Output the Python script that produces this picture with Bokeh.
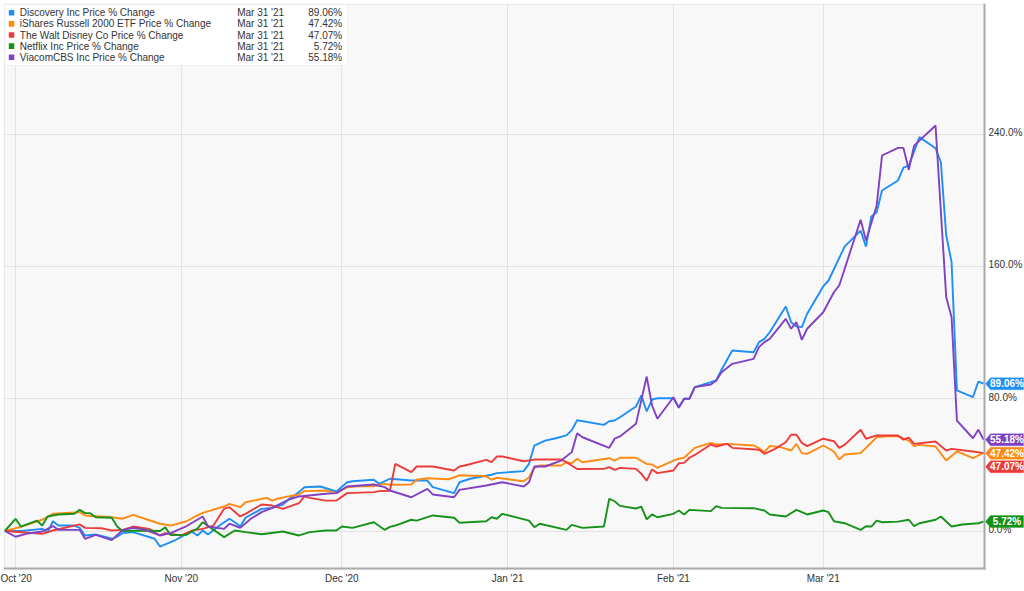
import pandas as pd
from bokeh.plotting import figure
from bokeh.models import (Range1d, FixedTicker, DatetimeTickFormatter, Label,
                          PolyAnnotation, BoxAnnotation, ColumnDataSource, Grid)
from bokeh.embed import file_html
from bokeh.resources import INLINE

# ---------------- data ----------------
START = pd.Timestamp("2020-10-01")   # day offsets below are calendar days from this date

names = ["Discovery Inc Price % Change", "iShares Russell 2000 ETF Price % Change",
         "The Walt Disney Co Price % Change", "Netflix Inc Price % Change",
         "ViacomCBS Inc Price % Change"]
colors = ["#1e8ff5", "#ff8a12", "#ec3b3b", "#16921a", "#8041c2"]
last_date = "Mar 31 '21"
last_values = [89.06, 47.42, 47.07, 5.72, 55.18]
y_ticks = [0, 80, 160, 240]
month_ticks = ["2020-10-01", "2020-11-01", "2020-12-01", "2021-01-01", "2021-02-01", "2021-03-01"]

dis_day = [-2, 1, 5, 6, 7, 8, 11, 12, 13, 15, 18, 19, 20, 22, 26, 27, 30, 32, 33, 34,
           35, 36, 38, 40, 41, 42, 43, 46, 48, 50, 51, 53, 54, 57, 60, 62, 63, 67, 68, 70,
           74, 77, 78, 82, 83, 85, 89, 90, 95, 96, 97, 99, 101, 103, 104, 105, 110, 111, 112, 113,
           116, 117, 118, 119, 120, 123, 124, 125, 126, 127, 130, 131, 132, 134, 138, 139, 140, 141, 144, 145,
           146, 147, 148, 151, 152, 155, 158, 159, 160, 161, 162, 165, 166, 167, 169, 172, 173, 174, 175, 176,
           179, 180, 181]
dis_val = [0, 0, 1.3, -0.7, 5.9, 3.3, 3.3, 1.9, -2.7, -2.1, -4.7, -3.5, -1.3, -0.7, -4.7, -9.4, -5.3, -1.7, -0.5, -2.7,
           0.3, -2.1, 3, 7.4, 5.3, 2.7, 8, 13.4, 14, 16, 18.9, 23.5, 26.5, 26.9, 23.9, 29.5, 30.1, 31, 28.5, 31.6,
           30.5, 30.5, 26.5, 22.9, 29.5, 31.6, 34, 35, 36.2, 40.6, 51.7, 54.7, 56.1, 57.8, 61, 67, 64.2, 66.4, 66.8, 68.8,
           75.3, 82, 72.3, 79.5, 80.3, 80.3, 74.9, 80, 80, 87, 90, 91, 97.5, 109.2, 108.1, 114.2, 116.2, 120.2, 135.8, 126.3,
           123.7, 123.3, 131.4, 147.9, 151.5, 172, 181.7, 172, 190.2, 192.8, 205.9, 212, 219.7, 221, 238.2, 231.5, 223, 178.7, 162.6, 85,
           80.9, 90.4, 89.06]

iwm_day = [-2, 1, 5, 7, 12, 13, 18, 20, 22, 27, 29, 32, 34, 35, 39, 40, 42, 43, 47, 48, 49,
           51, 53, 54, 58, 60, 62, 64, 67, 69, 70, 74, 75, 77, 81, 83, 88, 89, 90, 95, 96,
           97, 98, 102, 103, 104, 105, 106, 111, 112, 113, 116, 118, 119, 120, 123, 124, 125, 127, 130, 131,
           133, 138, 139, 140, 141, 143, 145, 146, 147, 148, 151, 153, 154, 155, 158, 161, 163, 165, 167, 168,
           169, 172, 174, 176, 179, 181]
iwm_val = [0, 2.5, 6.8, 10.4, 11.4, 9.4, 8.3, 7.4, 9.8, 4.4, 3.3, 5.9, 9.4, 11, 14.8, 16.4, 14.4, 17.4, 20, 18.4, 19.5,
           20.9, 22.1, 24.1, 24.5, 22.9, 26.5, 27.1, 27.1, 28.5, 28, 28.1, 31, 31.9, 31.3, 33.7, 33.1, 31, 32.2, 30.1, 32.5,
           38.2, 39.6, 39.6, 41.6, 41, 43.7, 41.6, 44, 42.6, 44.3, 44.3, 40.6, 40.2, 38.2, 42.6, 43.7, 44.3, 50.3, 53.3, 52.3,
           52.7, 51.7, 50.1, 47.7, 51.4, 50.7, 48.7, 52.7, 47.1, 46.7, 51.7, 48.1, 43.2, 46.3, 47.1, 56.7, 57.3, 57.3, 54.7, 51.3,
           52.1, 51.1, 42.6, 48.1, 44, 47.42]

dis_co_day = [-2, 5, 7, 12, 13, 16, 18, 20, 22, 25, 27, 28, 31, 33, 35, 37, 39, 40, 42, 43,
              46, 48, 50, 53, 54, 55, 58, 60, 62, 67, 68, 70, 71, 74, 75, 78, 82, 83, 84, 88,
              89, 90, 91, 95, 97, 102, 103, 105, 110, 111, 112, 113, 116, 117, 118, 119, 120, 123, 124, 125,
              126, 127, 130, 131, 133, 134, 139, 140, 142, 144, 145, 146, 147, 148, 151, 153, 154, 155, 158, 159,
              161, 165, 166, 167, 168, 172, 174, 175, 179, 181]
dis_co_val = [0, -1.7, 0.3, 4, 1.9, 1.7, 0.3, 0.7, 2.7, 1.3, -2.7, -1.3, -2.7, 0.3, 1.3, 3.3, 13.4, 14.4, 8.8, 10.4,
              16, 15.4, 13.4, 16.8, 20.9, 20, 18.4, 18.4, 22.9, 23.5, 24.1, 24.3, 40.6, 35.6, 39, 39, 36.6, 39, 39.6, 43,
              41.6, 45.1, 45.1, 42.2, 43.2, 43.2, 41.6, 37.5, 37.6, 38.6, 37, 38.2, 37.6, 34.6, 30.5, 37.2, 35, 36.6, 41, 41.2,
              44.3, 46, 52.3, 51.1, 52.7, 50.3, 49.1, 46.7, 49.7, 53.7, 58.2, 58.2, 53.3, 51.3, 55.8, 54.3, 50.3, 52.1, 61.2, 55.8,
              57.8, 57.8, 55.2, 56.4, 52.7, 54.1, 48.7, 49.7, 48.1, 47.07]

nflx_day = [-2, 0, 1, 4, 5, 6, 8, 11, 12, 13, 14, 15, 18, 19, 20, 24, 27, 28, 29, 32,
            34, 35, 39, 41, 43, 46, 50, 53, 55, 58, 60, 61, 63, 67, 69, 70, 71, 74, 75, 78,
            82, 83, 88, 89, 90, 91, 96, 97, 98, 103, 104, 106, 110, 111, 112, 113, 116, 117, 118, 119,
            120, 123, 124, 125, 126, 130, 131, 132, 138, 140, 141, 144, 146, 148, 151, 152, 153, 155, 158, 159,
            160, 161, 162, 165, 167, 168, 169, 172, 173, 175, 177, 180, 181]
nflx_val = [0, 7.4, 2.7, 6.3, 3.3, 8.8, 10, 10.4, 12.8, 10.8, 10.8, 8.3, 8, 2.7, 0, 0.3, 0, 2.3, -2.5, -2.3,
            1.5, 5.3, -3.7, 0.3, -0.7, -2, -0.3, -2.7, -0.7, 0.3, 0.3, 2.7, 1.9, 5.3, 0.7, 2.5, 3.3, 6.8, 6.3, 9.4,
            8, 5, 5.9, 8.3, 7.4, 10.4, 6.3, 2.3, 4.4, 0.7, 3.7, 1.9, 2.7, 19.5, 18, 15.2, 13.6, 14.8, 7.1, 10,
            8.3, 10.4, 12.4, 10, 12.8, 12, 15, 14, 13.8, 12.4, 10, 8.8, 12.8, 10, 12.4, 11.4, 5.9, 4.7, 0.7, 2.9,
            2.7, 6.3, 5.3, 5.7, 6.8, 2.9, 4.7, 6.8, 8.8, 2.7, 3.9, 4.7, 5.72]

via_day = [-2, 0, 2, 5, 7, 8, 12, 13, 15, 18, 20, 22, 24, 27, 29, 32, 35, 36, 39, 40,
           42, 44, 46, 48, 51, 53, 58, 60, 62, 67, 69, 70, 74, 77, 78, 82, 83, 88, 91, 95,
           96, 97, 99, 102, 104, 105, 106, 111, 112, 113, 116, 118, 119, 120, 123, 124, 125, 126, 127, 130,
           131, 132, 134, 138, 139, 140, 141, 144, 145, 146, 147, 148, 151, 153, 154, 158, 159, 161, 162, 165,
           166, 167, 168, 172, 174, 175, 176, 179, 180, 181]
via_val = [0, -3.5, -1.7, -0.3, 3, 0.7, 0.7, -4.7, -2.3, -5.5, 0.5, 1.9, 1, -2.7, -1.3, 3, 8.8, 2.7, 1.3, 4.4,
           1.9, 7.4, 11.4, 14, 18.9, 20.9, 22.5, 22.9, 26.9, 28.1, 26.5, 24.5, 20.4, 25.5, 22.1, 20.4, 24.9, 27.5, 29.5, 26.9,
           29.5, 39, 39, 42.6, 47.7, 59.1, 56.7, 50.3, 55.8, 57.2, 64.8, 93.4, 75.9, 67.9, 80.9, 74.5, 80, 80, 87, 88.6,
           91, 96, 101.1, 104.1, 111.2, 114.2, 116.2, 128.3, 122.3, 126.3, 115.6, 122.3, 132.3, 144.4, 148.5, 188.2, 175.7, 196.9, 227.1, 231.7,
           231.7, 218.4, 233.1, 245.2, 141.4, 129.3, 66.8, 56.1, 61.2, 55.18]

days_list = [dis_day, iwm_day, dis_co_day, nflx_day, via_day]
vals_list = [dis_val, iwm_val, dis_co_val, nflx_val, via_val]

# ---------------- layout (canvas pixel geometry) ----------------
FONT = "Liberation Sans"
W, H = 1024, 591
FR_L, FR_T, FR_R, FR_B = 3, 3, 1024, 570     # drawing frame
PLOT_R, PLOT_B = 984, 568                      # visible plot area's right / bottom edge
OCT1_PX, PX_PER_DAY = 15.0, 5.349
ZERO_PY, PX_PER_PCT = 530.5, 1.6535


def ms(day):
    return (START + pd.Timedelta(days=day)).value / 1e6


def px_x(px):
    return ms((px - OCT1_PX) / PX_PER_DAY)


def px_y(py):
    return (ZERO_PY - py) / PX_PER_PCT


def val_to_py(v):
    return ZERO_PY - v * PX_PER_PCT


p = figure(width=W, height=H, x_axis_type="datetime", y_axis_location=None,
           x_range=Range1d(px_x(FR_L), px_x(FR_R)), y_range=Range1d(px_y(FR_B), px_y(FR_T)),
           output_backend="svg", toolbar_location=None,
           min_border_left=FR_L, min_border_top=FR_T,
           min_border_right=W - FR_R, min_border_bottom=H - FR_B)

p.background_fill_color = "#f8f8f8"
p.border_fill_color = "white"
p.outline_line_color = None

# x axis (months)
p.xaxis.ticker = FixedTicker(ticks=[pd.Timestamp(d).value / 1e6 for d in month_ticks])
p.xaxis.formatter = DatetimeTickFormatter(months="%b '%y", days="%b '%y")
p.xaxis.axis_line_color = None
p.xaxis.major_tick_line_color = None
p.xaxis.minor_tick_line_color = None
p.xaxis.major_tick_out = 0
p.xaxis.major_tick_in = 0
p.xaxis.major_label_text_font = FONT
p.xaxis.major_label_text_font_size = "10px"
p.xaxis.major_label_text_color = "#333333"
p.xaxis.major_label_standoff = 2

p.xgrid.grid_line_color = "#e3e3e3"
if len(p.ygrid) > 0:
    p.ygrid.ticker = FixedTicker(ticks=y_ticks)
    p.ygrid.grid_line_color = "#e3e3e3"
else:
    p.add_layout(Grid(dimension=1, ticker=FixedTicker(ticks=y_ticks), grid_line_color="#e3e3e3"))

# ---------------- lines ----------------
for days, vals, col in zip(days_list, vals_list, colors):
    xs = (START + pd.to_timedelta(days, unit="D")).to_numpy()
    src = ColumnDataSource(dict(x=xs, y=vals))
    p.line("x", "y", source=src, line_color=col, line_width=1.9)

far_x, far_y = ms(400), 1000
# white area right of the plot (value-axis area)
p.add_layout(BoxAnnotation(left=px_x(PLOT_R + 1), right=far_x, top=far_y, bottom=-far_y,
                           fill_color="white", fill_alpha=1.0, line_color=None))
# plot border
p.add_layout(BoxAnnotation(left=px_x(4), right=px_x(PLOT_R), top=px_y(4), bottom=px_y(PLOT_B),
                           fill_color=None, line_color="#c8c8c8", line_width=1))
# value-axis line (right) and time-axis line (bottom)
p.add_layout(BoxAnnotation(left=px_x(PLOT_R - 1), right=px_x(PLOT_R + 1), top=px_y(3),
                           bottom=px_y(PLOT_B + 1), fill_color="#aaaaaa", fill_alpha=1.0,
                           line_color=None))
p.add_layout(BoxAnnotation(left=px_x(3), right=px_x(PLOT_R + 1), top=px_y(PLOT_B - 1),
                           bottom=px_y(PLOT_B + 1), fill_color="#aaaaaa", fill_alpha=1.0,
                           line_color=None))

# ---------------- legend box ----------------
p.add_layout(BoxAnnotation(left=px_x(4), right=px_x(347), top=px_y(4), bottom=px_y(65),
                           fill_color="white", fill_alpha=1.0,
                           line_color="#d6d6d6", line_width=1))
for i, (nm, col, v) in enumerate(zip(names, colors, last_values)):
    cy = 12.3 + 11.1 * i
    p.add_layout(BoxAnnotation(left=px_x(8.3), right=px_x(13.8), top=px_y(cy - 2.8),
                               bottom=px_y(cy + 2.8), fill_color=col, fill_alpha=1.0,
                               line_color=None))
    common = dict(y=px_y(cy), text_font=FONT, text_font_size="10px",
                  text_color="#333333", text_baseline="middle")
    p.add_layout(Label(x=px_x(19.3), text=nm, text_align="left", **common))
    p.add_layout(Label(x=px_x(236.7), text=last_date, text_align="left", **common))
    p.add_layout(Label(x=px_x(341.7), text=f"{v:.2f}%", text_align="right", **common))

# ---------------- value-axis tick labels ----------------
for t in y_ticks:
    p.add_layout(Label(x=px_x(988), y=px_y(val_to_py(t) - 1.5), text=f"{t:.1f}%",
                       text_align="left", text_baseline="alphabetic", text_font=FONT,
                       text_font_size="10px", text_color="#333333"))

# ---------------- end-of-line value tags ----------------
order = sorted(range(len(last_values)), key=lambda i: -last_values[i])
tag_cy = [0.0] * len(last_values)
prev = None
for i in order:
    c = val_to_py(last_values[i])
    if prev is not None and c < prev + 13.5:
        c = prev + 13.5
    tag_cy[i] = c
    prev = c

for i, (col, v) in enumerate(zip(colors, last_values)):
    c = tag_cy[i]
    xs = [px_x(985), px_x(990), px_x(1023), px_x(1023), px_x(990)]
    ys = [px_y(c), px_y(c - 6), px_y(c - 6), px_y(c + 6), px_y(c + 6)]
    p.add_layout(PolyAnnotation(xs=xs, ys=ys, fill_color=col, fill_alpha=1.0,
                                line_color=col, line_width=1))
    p.add_layout(Label(x=px_x(1006.5), y=px_y(c), text=f"{v:.2f}%", text_align="center",
                       text_baseline="middle", text_font=FONT, text_font_size="10px",
                       text_font_style="bold", text_color="white"))

open("out.html", "w").write(file_html(p, INLINE))
